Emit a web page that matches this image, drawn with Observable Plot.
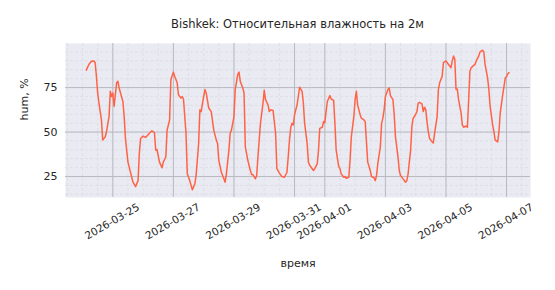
<!DOCTYPE html>
<html><head><meta charset="utf-8">
<script src="https://cdn.jsdelivr.net/npm/d3@7"></script>
<script src="https://cdn.jsdelivr.net/npm/@observablehq/plot@0.6"></script>
<style>
body{margin:0;background:#fff;font-family:"DejaVu Sans",sans-serif;}
#wrap{position:relative;width:555px;height:290px;}
#title{position:absolute;top:17px;left:65px;width:465px;text-align:center;font-size:11.5px;color:#262626;white-space:nowrap;}
#chart{position:absolute;top:0;left:0;}
</style></head><body>
<div id="wrap"><div id="chart"></div><div id="title">Bishkek: Относительная влажность на 2м</div></div>
<script>
const startTime = "2026-03-24T00:00:00Z";
const hoursFromStart = [3,5,7,9,10,11,12,13,15,16,18,19,21,22,23,24,25,27,28,29,32,33,34,36,38,40,42,44,45,46,48,50,53,55,57,58,59,61,63,64,66,67,69,70,72,73,75,76,78,79,80,82,83,85,87,89,90,92,93,94,96,97,98,100,102,104,106,107,108,110,112,113,114,116,117,118,120,121,123,124,125,127,128,129,131,133,134,135,137,138,139,141,143,144,145,147,148,149,151,153,154,156,158,160,162,163,164,165,166,167,168,170,171,172,174,175,176,178,179,180,182,183,184,186,187,188,190,191,192,193,194,196,197,199,200,201,203,204,205,207,208,209,211,212,213,215,216,217,218,220,221,223,224,225,226,228,229,231,232,233,234,236,237,238,239,240,242,243,244,246,247,248,250,251,252,254,256,257,258,260,261,262,263,265,266,267,269,270,271,272,273,274,275,277,278,279,281,282,283,285,286,288,290,291,292,293,294,295,296,297,298,300,301,302,304,305,306,307,308,309,310,311,312,314,315,317,318,319,321,322,323,325,326,327,329,330,331,333,334,335,336,337,338];
const humidity = [84.8,88,89.8,90,89,81.4,72,66.3,56.8,45.5,47.3,50.2,58.7,72.9,70,72,64.4,77.7,78.6,74.8,67.2,58.7,46.4,33.1,27.4,21.8,19.3,22.7,37.9,46.4,47.7,47,49.3,50.7,49.6,39.8,40.2,33.1,29.9,33.1,36,51.1,56.8,79.5,83.7,81.4,77.7,71,69.1,70,68.6,49.3,26.5,22.7,17.5,20.9,25.6,43.6,62.5,61.5,70,73.9,72,63.5,61.5,51.1,45.5,43.6,34.1,27.4,23.7,21.8,26.5,39.8,49.3,51.1,58.7,73.9,82.4,83.7,78.6,74.8,72,41.7,34.1,28.4,26.1,26.1,23.7,25.6,36,54.9,66.3,73.5,68.2,65.3,61.5,62.5,62.1,49.3,29.4,26.9,25,24.6,27.4,36,45.5,52.5,54.9,54,59.7,65.3,70,75.2,72.9,66.3,54.9,43.6,33.1,31.3,29.4,28.4,29.4,32.2,39.8,52.1,52.7,55.9,55.3,61.5,67.2,70.5,68.6,67.8,54.9,39.8,30.7,29.4,26.5,24.6,25,24,24.6,34.1,47.3,58.7,68.2,72.9,65.3,59.7,57.8,56.8,55.9,44.5,33.1,28.4,25,24.3,22.7,25.6,32.2,41.7,54.9,57.8,62.5,70,73.9,74.8,70.5,68.2,59.7,47.3,36,28.4,25.6,23.7,21.8,22.7,26.5,39.8,53,57.8,58.7,61.5,66.3,66.7,65.9,61.5,64,62.5,55.9,50.2,46.4,44.5,43.9,49.3,58.7,73.9,77.7,81.4,89,90,88,87.1,86.2,90,92.8,90.9,73.9,74.2,68.2,60.6,54,52.7,53.4,52.7,68.2,84.3,86.2,86.8,87.5,88.1,90,92.8,95.1,96,95.1,88.1,80.5,73.9,64.4,54,50.2,45.5,44.5,50.2,60.6,71,75.7,80.5,81.1,82.8,83.4];
const xTickLabels = ["2026-03-25","2026-03-27","2026-03-29","2026-03-31","2026-04-01","2026-04-03","2026-04-05","2026-04-07"];
const yTicks = [25, 50, 75];

const t0 = Date.parse(startTime);
const data = hoursFromStart.map((h, i) => ({time: new Date(t0 + h * 3600e3), hum: humidity[i]}));
const xTicks = xTickLabels.map(s => new Date(s + "T00:00:00Z"));
const xDomain = [new Date(t0 - 13.5 * 3600e3), new Date(t0 + 355 * 3600e3)];
const yDomain = [13.2, 99.8];
const minorX = d3.utcHour.every(12).range(xDomain[0], xDomain[1]);
const minorY = d3.range(15, 100, 5);

const chart = Plot.plot({
  width: 555, height: 290,
  marginLeft: 65, marginRight: 25, marginTop: 43, marginBottom: 93,
  style: {fontFamily: "DejaVu Sans, sans-serif", background: "#fff", color: "#262626"},
  x: {type: "utc", domain: xDomain, axis: null},
  y: {domain: yDomain, axis: null},
  marks: [
    Plot.frame({fill: "#EAEAF2", stroke: null}),
    Plot.gridX(minorX, {stroke: "#dadae2", strokeOpacity: 1, strokeWidth: 0.7, strokeDasharray: "3,2"}),
    Plot.gridY(minorY, {stroke: "#dadae2", strokeOpacity: 1, strokeWidth: 0.7, strokeDasharray: "3,2"}),
    Plot.gridX(xTicks, {stroke: "#b9b9c0", strokeOpacity: 1, strokeWidth: 1}),
    Plot.gridY(yTicks, {stroke: "#b9b9c0", strokeOpacity: 1, strokeWidth: 1}),
    Plot.line(data, {x: "time", y: "hum", stroke: "#FF6347", strokeWidth: 1.5}),
    Plot.axisY(yTicks, {tickSize: 0, tickPadding: 8, fontSize: 11, label: null}),
    Plot.text(xTicks, {x: d => d, text: (d, i) => xTickLabels[i], frameAnchor: "bottom", dy: 27, dx: 1, rotate: -30, fontSize: 10.5, fill: "#262626"}),
    Plot.text(["время"], {frameAnchor: "bottom", dy: 69, fontSize: 11, fill: "#262626"}),
    Plot.text(["hum, %"], {frameAnchor: "left", dx: -41, rotate: -90, fontSize: 11, fill: "#262626"})
  ]
});
document.getElementById("chart").appendChild(chart);
</script>
</body></html>
